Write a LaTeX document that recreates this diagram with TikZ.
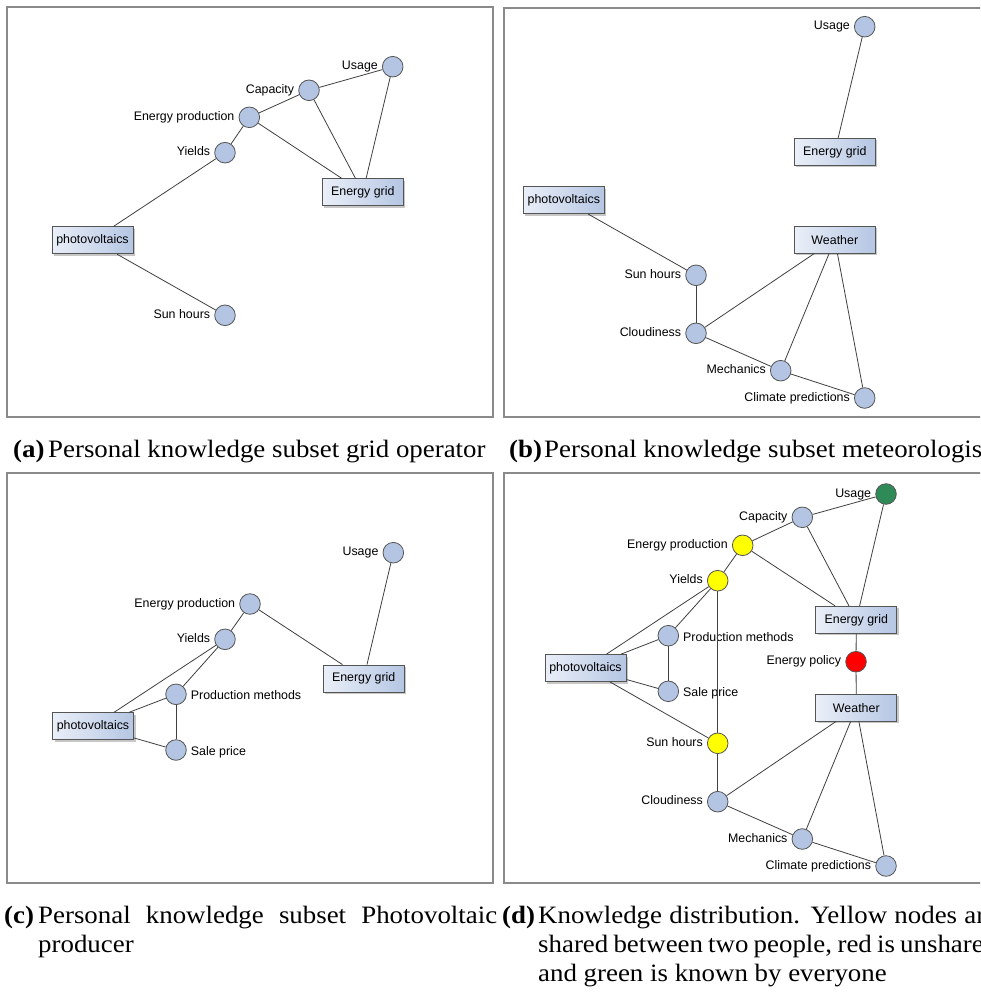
\documentclass[tikz,border=0pt]{standalone}
\usepackage{fontspec}
\setmainfont{Liberation Serif}
\newfontfamily\capfont[FakeStretch=1.075]{Liberation Serif}
\newfontfamily\lblfont{Liberation Sans}
\usetikzlibrary{shadows}

\definecolor{nodeblue}{HTML}{B3C5E2}
\definecolor{edgegray}{HTML}{404040}
\definecolor{rimgray}{HTML}{555555}
\definecolor{boxleft}{HTML}{EAEFF8}
\definecolor{boxright}{HTML}{B5C6E3}
\definecolor{framegray}{HTML}{8A8A8A}
\definecolor{sharedgreen}{HTML}{2E8B57}
\definecolor{unsharedred}{HTML}{FF0000}
\definecolor{sharedyellow}{HTML}{FFFF00}

\newcommand\lblsize{\lblfont\fontsize{12.4}{14}\selectfont}
\newcommand\capsize{\capfont\fontsize{25}{29}\selectfont}

\tikzset{
  concept/.style={circle, draw=rimgray, fill=nodeblue, line width=0.8pt,
    minimum size=20.6pt, inner sep=0pt},
  green concept/.style={concept, fill=sharedgreen},
  red concept/.style={concept, fill=unsharedred},
  yellow concept/.style={concept, fill=sharedyellow},
  topic/.style={rectangle, draw=rimgray, line width=0.8pt,
    left color=boxleft, right color=boxright,
    minimum width=81pt, minimum height=27pt, inner sep=0pt, font=\lblsize,
    drop shadow={shadow xshift=2pt, shadow yshift=-2pt, fill=black, opacity=0.22}},
  lw/.style={label={[anchor=base east, inner sep=0pt, xshift=-4pt, yshift=-3pt,
    font=\lblsize]180:#1}},
  le/.style={label={[anchor=base west, inner sep=0pt, xshift=4pt, yshift=-5.5pt,
    font=\lblsize]0:#1}},
  link/.style={draw=edgegray, line width=0.8pt},
  panel/.style={draw=framegray, fill=white, line width=1.2pt},
  captag/.style={anchor=base west, inner sep=0pt, font=\capsize\bfseries},
  captext/.style={anchor=base west, inner sep=0pt, font=\capsize},
  capblock/.style={anchor=north west, inner sep=0pt, font=\capsize,
    text width=459pt, align=justify}
}

\begin{document}
\begin{tikzpicture}[x=1pt, y=-1pt]
\useasboundingbox (0,0) rectangle (980,992);
\clip (0,0) rectangle (980,992);
\fill[white] (0,0) rectangle (980,992);

% frames of the four sub-figures
\draw[panel] (7,7) rectangle (493,417);
\draw[panel] (504,8) rectangle (990,417);
\draw[panel] (7,473) rectangle (493,883);
\draw[panel] (504,473) rectangle (990,883);

% (a) grid operator
\node[concept, lw=Usage] (aUse) at (392.7,66.7) {};
\node[concept, lw=Capacity] (aCap) at (309,90.3) {};
\node[concept, lw={Energy production}] (aEP) at (249.3,117.3) {};
\node[concept, lw=Yields] (aYld) at (225,152.7) {};
\node[concept, lw={Sun hours}] (aSun) at (225,315.3) {};
\node[topic] (aGrid) at (362.8,192.3) {Energy grid};
\node[topic] (aPV) at (92.5,240.3) {photovoltaics};
\draw[link] (aPV) -- (aYld);
\draw[link] (aPV) -- (aSun);
\draw[link] (aYld) -- (aEP);
\draw[link] (aEP) -- (aCap);
\draw[link] (aCap) -- (aUse);
\draw[link] (aEP) -- (aGrid);
\draw[link] (aCap) -- (aGrid);
\draw[link] (aUse) -- (aGrid);

% (b) meteorologist
\node[concept, lw=Usage] (bUse) at (864.7,26.7) {};
\node[topic] (bGrid) at (834.8,152) {Energy grid};
\node[topic] (bPV) at (563.8,200.2) {photovoltaics};
\node[topic] (bWea) at (834.8,239.7) {Weather};
\node[concept, lw={Sun hours}] (bSun) at (696,275.3) {};
\node[concept, lw=Cloudiness] (bCld) at (696,333.3) {};
\node[concept, lw=Mechanics] (bMech) at (780.7,370.7) {};
\node[concept, lw={Climate predictions}] (bClim) at (864.7,398) {};
\draw[link] (bUse) -- (bGrid);
\draw[link] (bPV) -- (bSun);
\draw[link] (bSun) -- (bCld);
\draw[link] (bCld) -- (bWea);
\draw[link] (bCld) -- (bMech);
\draw[link] (bMech) -- (bWea);
\draw[link] (bMech) -- (bClim);
\draw[link] (bWea) -- (bClim);

% (c) photovoltaic producer
\node[concept, lw=Usage] (cUse) at (393.3,552.7) {};
\node[concept, lw={Energy production}] (cEP) at (250,604) {};
\node[concept, lw=Yields] (cYld) at (225,639.3) {};
\node[topic] (cGrid) at (363.7,678.5) {Energy grid};
\node[concept, le={Production methods}] (cProd) at (176,694.3) {};
\node[concept, le={Sale price}] (cSale) at (176,750) {};
\node[topic] (cPV) at (93,726.2) {photovoltaics};
\draw[link] (cEP) -- (cYld);
\draw[link] (cEP) -- (cGrid);
\draw[link] (cUse) -- (cGrid);
\draw[link] (cYld) -- (cPV);
\draw[link] (cYld) -- (cProd);
\draw[link] (cPV) -- (cProd);
\draw[link] (cProd) -- (cSale);
\draw[link] (cPV) -- (cSale);

% (d) knowledge distribution
\node[green concept, lw=Usage] (dUse) at (886,494) {};
\node[concept, lw=Capacity] (dCap) at (802.3,517.3) {};
\node[yellow concept, lw={Energy production}] (dEP) at (742.7,545.3) {};
\node[yellow concept, lw=Yields] (dYld) at (717.7,580.7) {};
\node[concept, le={Production methods}] (dProd) at (668.3,635.7) {};
\node[concept, le={Sale price}] (dSale) at (668.3,691.3) {};
\node[topic] (dPV) at (585.5,668) {photovoltaics};
\node[yellow concept, lw={Sun hours}] (dSun) at (717.7,743.3) {};
\node[concept, lw=Cloudiness] (dCld) at (717.7,801.7) {};
\node[concept, lw=Mechanics] (dMech) at (802.3,839) {};
\node[concept, lw={Climate predictions}] (dClim) at (886,866) {};
\node[topic] (dGrid) at (856.3,619.8) {Energy grid};
\node[red concept, lw={Energy policy}] (dPol) at (856,661.7) {};
\node[topic] (dWea) at (856.3,707.7) {Weather};
\draw[link] (dUse) -- (dCap);
\draw[link] (dUse) -- (dGrid);
\draw[link] (dCap) -- (dEP);
\draw[link] (dCap) -- (dGrid);
\draw[link] (dEP) -- (dYld);
\draw[link] (dEP) -- (dGrid);
\draw[link] (dYld) -- (dPV);
\draw[link] (dYld) -- (dProd);
\draw[link] (dYld) -- (dSun);
\draw[link] (dPV) -- (dProd);
\draw[link] (dProd) -- (dSale);
\draw[link] (dPV) -- (dSale);
\draw[link] (dPV) -- (dSun);
\draw[link] (dSun) -- (dCld);
\draw[link] (dCld) -- (dWea);
\draw[link] (dCld) -- (dMech);
\draw[link] (dMech) -- (dWea);
\draw[link] (dMech) -- (dClim);
\draw[link] (dWea) -- (dClim);
\draw[link] (dGrid) -- (dPol);
\draw[link] (dPol) -- (dWea);

% sub-figure captions
\node[captag] (tagA) at (13,457) {(a)};
\node[captext] (capA) at (48,457) {Personal knowledge subset grid operator};
\node[captag] (tagB) at (509,457) {(b)};
\node[captext] (capB) at (544,457) {Personal knowledge subset meteorologist};
\node[captag] (tagC) at (4,923) {(c)};
\node[capblock] (capC) at (38,902.7) {\hyphenpenalty=10000\exhyphenpenalty=10000\strut
  Personal knowledge subset Photovoltaic\linebreak producer};
\node[captag] (tagD) at (502,923) {(d)};
\node[capblock] (capD) at (538,902.7) {\hyphenpenalty=10000\exhyphenpenalty=10000\strut
  Knowledge distribution. Yellow nodes are\linebreak
  shared between two people, red is unshared\linebreak
  and green is known by everyone};
\end{tikzpicture}
\end{document}
